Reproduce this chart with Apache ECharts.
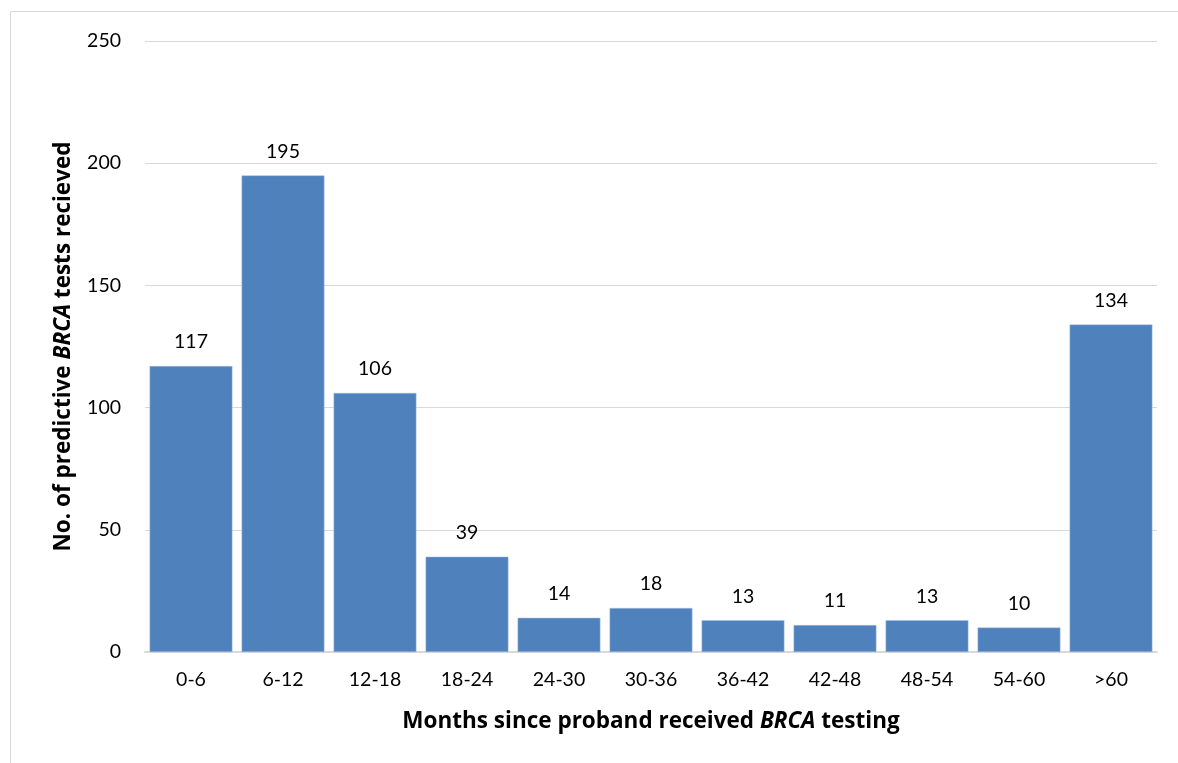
<!DOCTYPE html>
<html>
<head>
<meta charset="utf-8">
<script src="https://cdn.jsdelivr.net/npm/echarts@6/dist/echarts.min.js"></script>
<style>
  html, body { margin: 0; padding: 0; background: #fff; }
  #chart { width: 1178px; height: 763px; }
</style>
</head>
<body>
<div id="chart"></div>
<script>
// Months since the proband's BRCA test, in 6-month bins
const categories = ['0-6', '6-12', '12-18', '18-24', '24-30', '30-36', '36-42', '42-48', '48-54', '54-60', '>60'];
// Predictive BRCA tests received in each bin
const testCounts = [117, 195, 106, 39, 14, 18, 13, 11, 13, 10, 134];
// Value axis ticks
const yTicks = [0, 50, 100, 150, 200, 250];

const FONT = 'Lato, "Open Sans", sans-serif';
const TITLE_FONT = '"Open Sans", Lato, sans-serif';
const titleRich = {
  b: { fontSize: 22.5, fontWeight: 'bold', color: '#000', fontFamily: TITLE_FONT },
  bi: { fontSize: 22.5, fontWeight: 'bold', fontStyle: 'italic', color: '#000', fontFamily: TITLE_FONT }
};
const chart = echarts.init(document.getElementById('chart'));

chart.setOption({
  animation: false,
  backgroundColor: '#fff',
  textStyle: { fontFamily: FONT },
  graphic: [{
    type: 'rect',
    shape: { x: 10.5, y: 11.5, width: 1200, height: 800 },
    style: { fill: 'none', stroke: '#d9d9d9', lineWidth: 1 },
    silent: true,
    z: -10
  }],
  grid: { left: 145, right: 21, top: 41, bottom: 111 },
  xAxis: {
    type: 'category',
    data: categories,
    axisTick: { show: false },
    axisLine: { lineStyle: { color: '#d9d9d9', width: 2 } },
    axisLabel: { color: '#000', fontSize: 19.5, margin: 18, fontFamily: FONT },
    name: '{b|Months since proband received }{bi|BRCA}{b| testing}',
    nameLocation: 'middle',
    nameGap: 58,
    nameTextStyle: { rich: titleRich }
  },
  yAxis: {
    type: 'value',
    min: yTicks[0],
    max: yTicks[yTicks.length - 1],
    interval: yTicks[1] - yTicks[0],
    axisLine: { show: false },
    axisTick: { show: false },
    splitLine: { lineStyle: { color: '#d9d9d9', width: 1 } },
    axisLabel: { color: '#000', fontSize: 19.5, margin: 24, fontFamily: FONT },
    name: '{b|No. of predictive }{bi|BRCA}{b| tests recieved}',
    nameLocation: 'middle',
    nameRotate: 90,
    nameGap: 70,
    nameTextStyle: { rich: titleRich }
  },
  series: [{
    type: 'bar',
    data: testCounts,
    barCategoryGap: '10%',
    itemStyle: { color: '#4f81bd', borderColor: '#a7bfde', borderWidth: 0.5 },
    label: {
      show: true,
      position: 'top',
      distance: 14,
      color: '#000',
      fontSize: 19.5,
      fontFamily: FONT
    }
  }]
});
</script>
</body>
</html>
